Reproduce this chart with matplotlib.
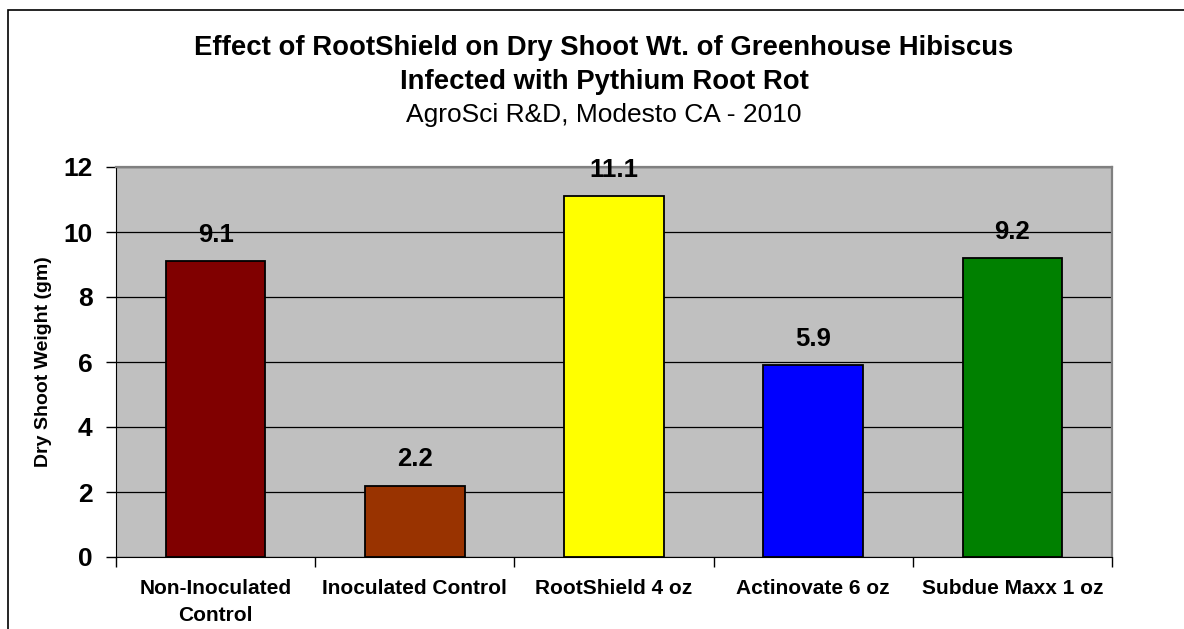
import matplotlib
matplotlib.use("Agg")
import matplotlib.pyplot as plt
from matplotlib.patches import Rectangle

categories = ["Non-Inoculated\nControl", "Inoculated Control", "RootShield 4 oz",
              "Actinovate 6 oz", "Subdue Maxx 1 oz"]
weights = [9.1, 2.2, 11.1, 5.9, 9.2]
bar_colors = ["#800000", "#993300", "#FFFF00", "#0000FF", "#008000"]
y_ticks = [0, 2, 4, 6, 8, 10, 12]

plt.rcParams["font.family"] = ["Liberation Sans", "DejaVu Sans"]

W, H = 1184, 629
fig = plt.figure(figsize=(W / 100, H / 100), dpi=100)
ax = fig.add_axes([116 / W, 1 - 557 / H, 996 / W, 390 / H])

# outer chart border (only top and left show in the crop)
fig.patches.append(Rectangle((8 / W, -0.05), 1.2, 1 - 10 / H + 0.05,
                             transform=fig.transFigure, fill=False,
                             edgecolor="black", lw=1.2))

x = range(len(categories))
ax.set_facecolor("#C0C0C0")
ax.bar(x, weights, width=0.5, color=bar_colors, edgecolor="black", lw=1.3, zorder=3)
for xi, w in zip(x, weights):
    ax.text(xi, w + 0.6, f"{w:.1f}", ha="center", va="baseline",
            fontsize=18.5, fontweight="bold", zorder=4)

ax.set_xlim(-0.5, len(categories) - 0.5)
ax.set_ylim(0, 12)
ax.set_yticks(y_ticks)
ax.set_yticklabels([str(t) for t in y_ticks], fontsize=19, fontweight="bold")
ax.yaxis.grid(True, color="black", lw=0.9, zorder=1)
ax.set_axisbelow(True)

ax.set_xticks(list(x))
ax.set_xticklabels(categories, fontsize=15, fontweight="bold", linespacing=1.55)
ax.set_xticks([i + 0.5 for i in range(-1, len(categories))], minor=True)
ax.tick_params(axis="x", which="major", length=0, pad=16)
ax.tick_params(axis="x", which="minor", length=7, width=1)
ax.tick_params(axis="y", length=7, width=1, pad=10)

for side in ("top", "right"):
    ax.spines[side].set_color("#808080")
    ax.spines[side].set_linewidth(1.6)
ax.spines["left"].set_color("black")
ax.spines["bottom"].set_color("black")

ax.set_ylabel("Dry Shoot Weight (gm)", fontsize=14, fontweight="bold", labelpad=8)

title_x = 604 / W
fig.text(title_x, 1 - 55 / H, "Effect of RootShield on Dry Shoot Wt. of Greenhouse Hibiscus",
         ha="center", va="baseline", fontsize=19.8, fontweight="bold")
fig.text(title_x, 1 - 89 / H, "Infected with Pythium Root Rot",
         ha="center", va="baseline", fontsize=19.8, fontweight="bold")
fig.text(title_x, 1 - 122 / H, "AgroSci R&D, Modesto CA - 2010",
         ha="center", va="baseline", fontsize=19)

fig.savefig("out.png", dpi=100)
